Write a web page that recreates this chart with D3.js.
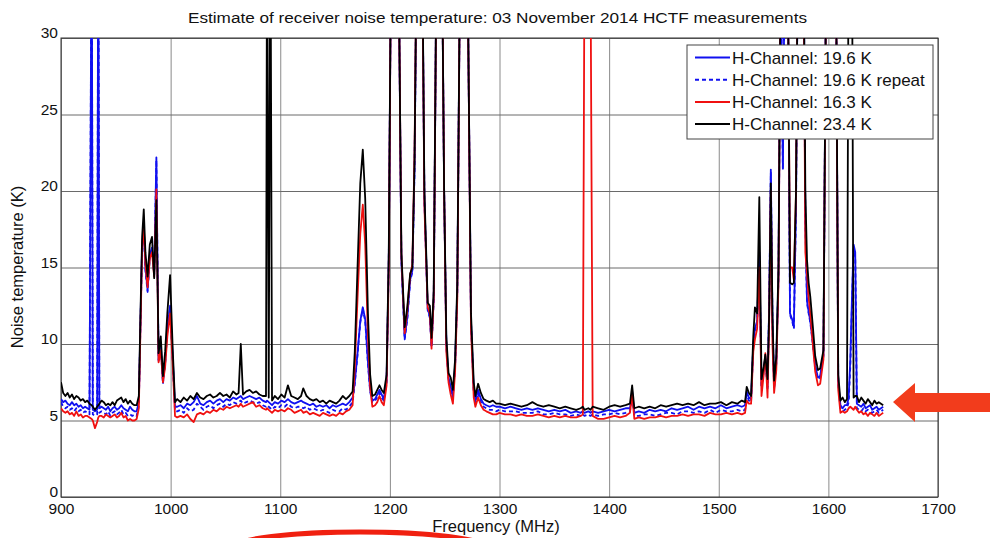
<!DOCTYPE html>
<html>
<head>
<meta charset="utf-8">
<script src="https://cdn.jsdelivr.net/npm/d3@7"></script>
<style>
  body { margin: 0; background: #fff; }
  svg text { font-family: "Liberation Sans", Arial, sans-serif; fill: #111; }
</style>
</head>
<body>
<div id="drawingArea"></div>
<script>
// frequency axis (MHz)
var freq = [
  900,902,904,906,908,910,912,914,916,918,920,922,924,926,928,929,931,933,934,935,937,939,941,943,945,947,949,951,953,955,957,959,961,963,965,967,969,971,
  972.5,974,975.5,977,979,981,983,985,987,989,991,993,995,997,999.5,1002,1004,
  1006,1009,1012,1015,1018,1021,1024,1027,1030,1033,1036,1039,1042,1045,1048,1051,1054,1057,1060,1062,1064,1066,1069,1072,1075,1078,1081,1084,1087,1088,1089.5,1091,1092.5,1095,1098,1101,1104,1107,1110,1113,1116,1119,1121,1124,1127,1130,1133,1136,1139,1142,1145,1148,1151,1154,1157,1160,1163,
  1166,1168,1170.5,1173,1175.3,1177.5,1180,1182,1184,1186.5,1188.5,1190.5,1192.5,1194.5,1197,1199,1201,1205,1208,1210.5,1213.5,1216,1218.5,1220.5,1222.5,1225,1229,1231.5,1234.5,1236.5,1238,1240,1242.5,1247,1249.5,1251.5,1253.5,1255.5,1257.5,1259.5,1261.5,1264,1268,1271.5,1274,1276.5,1278,1280.5,1283,1285.5,1288,1291,1294,1297,
  1300,1305,1310,1315,1320,1325,1330,1335,1340,1345,1350,1355,1360,1365,1370,1374,1376,1377.5,1381,1383,1385,1390,1395,1400,1405,1410,1415,1419,1421,1423,1427,1432,1437,1442,1447,1452,1457,1462,1467,1472,1477,1482,1487,1492,1497,1502,1507,1512,1517,1521,1524,
  1525.5,1527.5,1529.5,1531.5,1533,1535,1537,1539,1541,1542.5,1544.5,1546,1547.5,1549,1550.5,1552.5,1554.5,1556.5,1558.5,1560.5,1563,1565,1567,1568.5,1570.5,1572.5,1577,1579,1580.5,1582,1583.5,1586,1588,1590.5,1592.5,1595.5,1598,1603,1607,1609,1611,1613,1615,1617,1618.5,1620,1621.5,1623,1624.5,1626,1628,1630,1632,1634,1636,1638,1640,1642,1644,1646,1648,1650
];

// H-Channel: 19.6 K (solid blue)
var tBlue = [
  6.4,6.2,6.3,6.1,6.0,6.2,6.0,6.1,5.9,6.0,5.8,5.9,5.8,5.7,40,5.7,5.6,5.7,40,5.8,5.9,5.8,5.7,5.9,5.6,5.8,5.9,5.7,5.8,6.0,5.8,5.7,5.6,5.9,5.7,5.6,5.6,6.2,
  11.5,16.5,17.6,15.0,13.5,15.8,16.3,14.6,22.2,9.0,10.0,7.5,8.8,11.0,12.5,9.0,5.9,
  5.9,6.0,5.8,6.1,6.0,6.2,6.6,6.1,6.0,6.2,6.3,6.1,6.3,6.4,6.2,6.4,6.3,6.5,6.4,6.5,6.6,6.4,6.5,6.6,6.5,6.4,6.5,6.3,6.2,6.3,6.2,6.1,6.0,6.2,6.1,6.3,6.2,6.4,6.2,6.1,6.2,6.3,6.2,6.1,6.0,6.1,5.9,6.0,5.9,6.0,5.8,6.0,5.9,6.0,6.1,6.0,6.2,
  6.5,7.5,9.4,11.5,12.4,11.6,8.8,7.0,6.3,6.4,6.7,7.0,6.7,6.4,7.6,15.5,35,45,35,15.5,10.4,11.8,14.2,14.8,21.5,40,40,19.5,12.3,11.8,9.9,13.0,35,40,20,10.0,7.8,7.2,6.6,8.6,13.5,35,40,30,11.5,7.0,6.3,7.0,6.4,6.1,6.0,5.9,6.0,5.9,
  5.9,5.8,5.9,5.8,5.7,5.8,5.7,5.8,5.7,5.6,5.7,5.6,5.7,5.5,5.6,5.5,5.6,5.5,5.6,5.5,5.6,5.5,5.6,5.7,5.6,5.7,5.8,5.8,6.9,5.5,5.6,5.5,5.7,5.6,5.7,5.6,5.8,5.7,5.8,5.9,5.7,5.9,5.8,5.9,5.8,6.0,5.8,5.9,6.0,5.9,6.0,
  6.9,6.5,6.4,10.0,11.0,11.5,16.0,7.3,8.3,9.2,7.2,12.5,21.4,11.5,7.2,8.8,14.5,35,21.5,38,35,12.0,11.6,11.1,19,40,40,18,12.8,12.1,11.5,10.0,8.6,7.8,7.9,9.3,35,40,35,7.5,6.0,5.8,6.0,6.0,6.5,9.0,13.0,16.5,16.0,6.1,6.0,5.9,6.1,5.8,5.9,6.0,5.7,5.8,5.9,5.7,5.8,5.9
];

// H-Channel: 19.6 K repeat (dashed blue)
var tBlueRep = [
  6.2,5.9,5.8,5.9,5.7,5.8,5.6,5.8,5.6,5.7,5.5,5.6,5.5,5.4,40,5.4,5.3,5.4,40,5.5,5.6,5.5,5.4,5.6,5.3,5.5,5.6,5.4,5.5,5.7,5.4,5.5,5.3,5.4,5.3,5.4,5.3,6.0,
  11.3,16.3,17.4,14.8,13.4,15.7,16.2,14.5,22.0,8.9,9.9,7.4,8.7,10.9,12.4,8.8,5.6,
  5.6,5.7,5.5,5.8,5.6,5.7,6.1,5.9,5.7,5.9,6.0,5.8,6.0,6.1,5.9,6.1,6.0,6.2,6.1,6.2,6.3,6.1,6.2,6.3,6.2,6.1,6.2,6.0,5.9,6.0,5.9,5.8,5.7,5.9,5.8,6.0,5.9,6.1,5.9,5.8,5.9,5.9,5.8,5.9,5.7,5.8,5.7,5.6,5.7,5.6,5.5,5.7,5.6,5.6,5.8,5.7,5.9,
  6.2,7.4,9.3,11.4,12.3,11.5,8.7,6.9,6.2,6.3,6.5,6.8,6.5,6.3,7.5,15.4,35,45,35,15.4,10.3,11.7,14.1,14.7,21.4,40,40,19.4,12.2,11.7,9.8,12.9,35,40,20,9.9,7.7,7.1,6.5,8.5,13.4,35,40,30,11.4,6.9,6.1,6.8,6.2,5.9,5.8,5.7,5.7,5.6,
  5.7,5.6,5.6,5.6,5.5,5.5,5.5,5.6,5.4,5.4,5.5,5.4,5.4,5.3,5.4,5.3,5.4,5.3,5.4,5.3,5.4,5.3,5.4,5.4,5.5,5.4,5.5,5.6,6.7,5.3,5.3,5.4,5.4,5.3,5.4,5.5,5.5,5.4,5.6,5.6,5.5,5.6,5.5,5.7,5.5,5.7,5.6,5.6,5.7,5.6,5.7,
  6.7,6.3,6.2,9.9,10.9,11.4,15.8,7.2,8.2,9.1,7.1,12.4,21.2,11.4,7.1,8.7,14.4,35,21.4,38,35,11.9,11.5,11.0,19,40,40,18,12.7,12.0,11.4,9.9,8.5,7.7,7.8,9.2,35,40,35,7.4,5.8,5.6,5.7,5.8,6.2,8.5,12.5,16.2,15.7,5.8,5.7,5.6,5.8,5.6,5.7,5.6,5.5,5.6,5.7,5.5,5.6,5.7
];

// H-Channel: 16.3 K (red)
var tRed = [
  5.8,5.6,5.5,5.6,5.4,5.5,5.3,5.6,5.3,5.4,5.2,5.3,5.3,5.2,5.1,5.0,4.5,4.9,5.2,5.3,5.3,5.2,5.4,5.3,5.2,5.3,5.4,5.2,5.3,5.5,5.2,5.3,5.0,5.1,5.0,5.0,5.1,5.8,
  11.0,16.2,17.8,15.2,13.7,15.6,16.0,14.4,20.1,8.8,9.6,7.5,8.5,10.5,12.0,8.5,5.3,
  5.2,5.3,5.2,5.4,5.1,4.9,5.4,5.5,5.4,5.6,5.5,5.7,5.6,5.8,5.7,5.9,5.8,5.9,6.0,5.9,6.1,5.9,6.0,6.1,6.2,5.9,6.0,5.8,5.7,5.8,5.7,5.6,5.5,5.7,5.6,5.7,5.6,5.8,5.7,5.5,5.6,5.7,5.5,5.6,5.4,5.5,5.4,5.3,5.5,5.4,5.3,5.4,5.3,5.5,5.4,5.6,5.7,
  6.0,8.5,13.0,17.2,19.1,16.5,10.5,7.2,5.9,6.0,6.2,6.6,6.2,6.0,7.3,15.0,35,45,35,15.8,10.7,12.3,14.5,15.2,22.5,40,40,19.0,12.4,12.0,9.7,13.0,35,40,20,9.5,7.5,6.7,6.1,8.2,13.0,35,40,30,11.0,6.5,5.9,6.5,6.0,5.7,5.6,5.5,5.4,5.4,
  5.5,5.4,5.4,5.3,5.4,5.3,5.3,5.4,5.3,5.2,5.3,5.2,5.3,5.2,5.2,5.3,5.4,35,40,35,5.3,5.1,5.1,5.2,5.3,5.2,5.3,5.5,6.7,5.1,5.2,5.1,5.2,5.2,5.3,5.2,5.3,5.3,5.4,5.3,5.4,5.4,5.3,5.5,5.4,5.4,5.5,5.4,5.5,5.4,5.5,
  6.3,6.1,6.1,9.5,10.3,11.0,15.0,6.6,8.0,9.4,6.5,11.5,20.0,10.0,6.8,8.3,14.0,35,38,40,35,15.0,15.0,14.2,20,40,40,16,14.6,13.0,12.0,9.8,8.2,7.3,7.4,9.0,35,40,35,7.0,5.5,5.6,5.5,5.6,5.8,5.9,5.8,5.7,5.9,5.7,5.5,5.6,5.4,5.5,5.3,5.5,5.4,5.3,5.5,5.3,5.4,5.5
];

// H-Channel: 23.4 K (black)
var tBlack = [
  7.5,6.8,6.6,6.8,6.5,6.7,6.4,6.6,6.5,6.3,6.4,6.2,6.3,6.1,6.0,5.9,5.7,5.9,6.0,6.1,6.3,6.2,6.0,6.1,6.0,6.2,6.0,6.3,6.4,6.5,6.2,6.4,6.1,6.3,6.1,6.0,6.0,6.6,
  12.0,17.0,18.8,16.0,14.4,16.5,17.0,14.3,19.4,9.4,10.5,7.9,9.5,12.0,14.5,9.5,6.2,
  6.4,6.2,6.5,6.3,6.6,6.4,6.8,6.5,6.4,6.6,6.7,6.5,6.6,6.8,6.6,6.7,6.5,6.9,6.7,6.8,10.0,6.7,6.9,7.0,6.8,6.9,6.7,6.6,6.6,40,6.5,40,6.3,6.6,6.4,6.7,6.5,7.3,6.6,6.5,6.4,6.6,7.1,6.6,6.4,6.3,6.4,6.2,6.3,6.1,6.3,6.2,6.1,6.3,6.6,6.4,6.6,
  6.9,9.5,15.0,20.5,22.7,19.5,12.0,8.0,6.6,6.7,7.0,7.3,7.0,6.8,8.0,16.0,35,45,35,16.0,11.1,12.5,14.6,15.0,22.0,40,40,20.0,12.7,12.5,10.4,13.5,35,40,20,10.5,8.1,7.8,7.0,9.0,14.0,35,40,30,12.0,7.5,6.6,7.4,6.8,6.4,6.3,6.2,6.3,6.1,
  6.1,6.0,6.1,6.0,5.9,6.0,6.2,6.0,5.9,6.0,5.9,5.8,5.9,5.8,5.7,5.8,5.9,5.7,5.8,5.7,5.9,5.8,5.7,5.9,6.0,5.9,6.0,6.1,7.3,5.8,5.9,5.8,5.9,5.8,6.0,5.9,6.0,6.1,6.0,6.1,6.0,6.2,6.0,6.1,6.1,6.2,6.0,6.2,6.1,6.3,6.2,
  7.2,6.8,6.6,10.5,12.4,12.0,19.6,7.7,8.5,9.3,7.7,12.0,20.5,12.0,7.6,9.2,15.0,35,38,40,35,14.0,13.9,14.0,20,40,40,20,15.5,14.0,13.1,11.0,9.2,8.3,8.4,9.6,35,40,35,8.0,6.3,6.5,6.2,6.4,38,40,38,6.5,6.6,6.6,6.2,6.5,6.3,6.1,6.4,6.2,6.0,6.3,6.1,6.2,6.1,6.0
];

var xTicks = [900, 1000, 1100, 1200, 1300, 1400, 1500, 1600, 1700];
var yTicks = [0, 5, 10, 15, 20, 25, 30];
var legendLabels = ["H-Channel: 19.6 K", "H-Channel: 19.6 K repeat", "H-Channel: 16.3 K", "H-Channel: 23.4 K"];

var W = 990, H = 538;
var margin = {top: 38, right: 52, bottom: 41, left: 61};

var svg = d3.select("#drawingArea").append("svg")
    .attr("width", W)
    .attr("height", H);

var x = d3.scaleLinear().domain([900, 1700]).range([margin.left, W - margin.right]);
var y = d3.scaleLinear().domain([0, 30]).range([H - margin.bottom, margin.top]);

// title
svg.append("text")
    .attr("x", 497.5).attr("y", 23)
    .attr("text-anchor", "middle")
    .style("font-size", "15.5px")
    .attr("textLength", 619)
    .attr("lengthAdjust", "spacingAndGlyphs")
    .text("Estimate of receiver noise temperature: 03 November 2014 HCTF measurements");

// grid
svg.append("g")
    .attr("transform", "translate(0," + y(0) + ")")
    .call(d3.axisBottom(x).tickValues(xTicks).tickSize(-(y(0) - y(30))).tickFormat(""))
    .call(function(g) {
        g.select(".domain").remove();
        g.selectAll("line").attr("stroke", "#8a8a8a").attr("stroke-width", 1);
    });

svg.append("g")
    .attr("transform", "translate(" + x(900) + ",0)")
    .call(d3.axisLeft(y).tickValues(yTicks).tickSize(-(x(1700) - x(900))).tickFormat(""))
    .call(function(g) {
        g.select(".domain").remove();
        g.selectAll("line").attr("stroke", "#6a6a6a").attr("stroke-width", 1);
    });

// box
svg.append("rect")
    .attr("x", x(900)).attr("y", y(30))
    .attr("width", x(1700) - x(900)).attr("height", y(0) - y(30))
    .attr("fill", "none").attr("stroke", "#333").attr("stroke-width", 1);

// tick labels
svg.append("g")
    .attr("transform", "translate(0," + y(0) + ")")
    .call(d3.axisBottom(x).tickValues(xTicks).tickSize(0).tickPadding(6).tickFormat(d3.format("d")))
    .call(function(g) {
        g.select(".domain").remove();
        g.selectAll("text").style("font-size", "15.5px").attr("fill", "#111");
    });

svg.append("g")
    .attr("transform", "translate(" + x(900) + ",-5)")
    .call(d3.axisLeft(y).tickValues(yTicks).tickSize(0).tickPadding(3).tickFormat(d3.format("d")))
    .call(function(g) {
        g.select(".domain").remove();
        g.selectAll("text").style("font-size", "15.5px").attr("fill", "#111");
    });

// axis labels
svg.append("text")
    .attr("x", 496).attr("y", 532)
    .attr("text-anchor", "middle")
    .style("font-size", "16.5px")
    .text("Frequency (MHz)");

svg.append("text")
    .attr("transform", "translate(23," + 267 + ") rotate(-90)")
    .attr("text-anchor", "middle")
    .style("font-size", "16.5px")
    .text("Noise temperature (K)");

// clip to the axes
svg.append("clipPath").attr("id", "plotClip")
  .append("rect")
    .attr("x", x(900)).attr("y", y(30))
    .attr("width", x(1700) - x(900)).attr("height", y(0) - y(30));

var series = [
    {values: tBlue, color: "#1010f0", dash: null},
    {values: tBlueRep, color: "#1010f0", dash: "4,3"},
    {values: tRed, color: "#f01010", dash: null},
    {values: tBlack, color: "#000000", dash: null}
];

var plot = svg.append("g").attr("clip-path", "url(#plotClip)");

series.forEach(function(s) {
    var line = d3.line()
        .x(function(d, i) { return x(freq[i]); })
        .y(function(d) { return y(d); });
    plot.append("path")
        .datum(s.values)
        .attr("d", line)
        .attr("fill", "none")
        .attr("stroke", s.color)
        .attr("stroke-width", 1.8)
        .attr("stroke-linejoin", "round")
        .attr("stroke-dasharray", s.dash);
});

// legend
var leg = svg.append("g");
leg.append("rect")
    .attr("x", 687).attr("y", 45)
    .attr("width", 246).attr("height", 94)
    .attr("fill", "#fff").attr("stroke", "#444").attr("stroke-width", 1);

legendLabels.forEach(function(lbl, i) {
    var ly = 57.5 + i * 22.2;
    leg.append("line")
        .attr("x1", 695).attr("x2", 730)
        .attr("y1", ly).attr("y2", ly)
        .attr("stroke", series[i].color)
        .attr("stroke-width", 2)
        .attr("stroke-dasharray", series[i].dash);
    leg.append("text")
        .attr("x", 732).attr("y", ly)
        .attr("dy", "0.36em")
        .style("font-size", "17px")
        .text(lbl);
});

// annotation: red arrow pointing at the baseline
svg.append("path")
    .attr("d", "M893,402 L915,383 L915,393 L990,393 L990,412 L915,412 L915,422 Z")
    .attr("fill", "#f23c1c");

// annotation: red ellipse cut by the bottom edge
svg.append("ellipse")
    .attr("cx", 360).attr("cy", 547)
    .attr("rx", 125).attr("ry", 15)
    .attr("fill", "none")
    .attr("stroke", "#f02010")
    .attr("stroke-width", 5);
</script>
</body>
</html>
